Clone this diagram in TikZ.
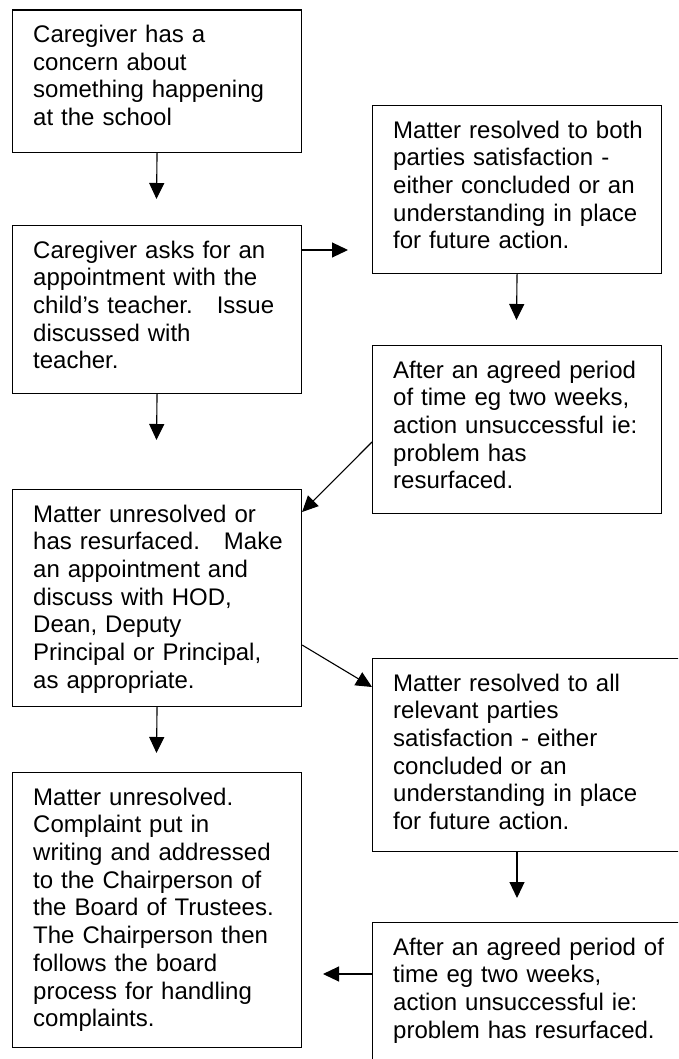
\documentclass[tikz,border=0pt]{standalone}
\usepackage{fontspec}
\setmainfont{Liberation Sans}
\usetikzlibrary{arrows.meta,calc}
\begin{document}
\begin{tikzpicture}[x=1pt,y=-1pt,
  fbox/.style={draw=black, line width=1.1pt, anchor=north west, inner sep=0pt},
  ftext/.style={anchor=north west, inner sep=0pt, align=left, text width=300pt,
    font=\fontsize{24}{27.7}\selectfont},
  conn/.style={line width=1.1pt, -{Triangle[width=15pt,length=16pt]}}]
\useasboundingbox (0,0) rectangle (678,1059);
\clip (0,0) rectangle (678,1059);

% left column
\node[fbox, minimum width=289pt, minimum height=142.5pt] (b1) at (12,9.5) {};
\node[ftext] (t1) at ($(b1.north west)+(21,15.5)$) {Caregiver has a\\concern about\\something happening\\at the school};

\node[fbox, minimum width=289pt, minimum height=168pt] (b2) at (12,225) {};
\node[ftext] (t2) at ($(b2.north west)+(21,15.5)$) {Caregiver asks for an\\appointment with the\\child’s teacher.\ \ \ Issue\\discussed with\\teacher.};

\node[fbox, minimum width=289pt, minimum height=217pt] (b3) at (12,489) {};
\node[ftext] (t3) at ($(b3.north west)+(21,15.5)$) {Matter unresolved or\\has resurfaced.\ \ \ Make\\an appointment and\\discuss with HOD,\\Dean, Deputy\\Principal or Principal,\\as appropriate.};

\node[fbox, minimum width=289pt, minimum height=275pt] (b4) at (12,772) {};
\node[ftext] (t4) at ($(b4.north west)+(21,15.5)$) {Matter unresolved.\\Complaint put in\\writing and addressed\\to the Chairperson of\\the Board of Trustees.\\The Chairperson then\\follows the board\\process for handling\\complaints.};

% right column
\node[fbox, minimum width=289pt, minimum height=168pt] (r1) at (372,105) {};
\node[ftext] (u1) at ($(r1.north west)+(21,15.5)$) {Matter resolved to both\\parties satisfaction -\\either concluded or an\\understanding in place\\for future action.};

\node[fbox, minimum width=289pt, minimum height=168pt] (r2) at (372,345) {};
\node[ftext] (u2) at ($(r2.north west)+(21,15.5)$) {After an agreed period\\of time eg two weeks,\\action unsuccessful ie:\\problem has\\resurfaced.};

\node[fbox, minimum width=340pt, minimum height=193pt] (r3) at (372,658) {};
\node[ftext] (u3) at ($(r3.north west)+(21,15.5)$) {Matter resolved to all\\relevant parties\\satisfaction - either\\concluded or an\\understanding in place\\for future action.};

\node[fbox, minimum width=340pt, minimum height=200pt] (r4) at (372,922) {};
\node[ftext] (u4) at ($(r4.north west)+(21,15.5)$) {After an agreed period of\\time eg two weeks,\\action unsuccessful ie:\\problem has resurfaced.};

% connector free ends
\coordinate (e1) at (156.5,199);
\coordinate (e2) at (348,250);
\coordinate (e3) at (156.5,440);
\coordinate (e4) at (516.5,320);
\coordinate (e7) at (517,898);
\coordinate (e8) at (323,974);
\coordinate (e9) at (156.5,753);

\draw[conn] (b1.south) -- (e1);
\draw[conn] ($(b2.north east)+(0,25)$) -- (e2);
\draw[conn] (b2.south) -- (e3);
\draw[conn] (r1.south) -- (e4);
\draw[conn] ($(r2.north west)+(0,97)$) -- ($(b3.north east)+(0,23)$);
\draw[conn] ($(b3.north east)+(0,156)$) -- ($(r3.north west)+(0,29)$);
\draw[conn] (r3.south -| e7) -- (e7);
\draw[conn] ($(r4.north west)+(0,52)$) -- (e8);
\draw[conn] (b3.south) -- (e9);
\end{tikzpicture}
\end{document}
